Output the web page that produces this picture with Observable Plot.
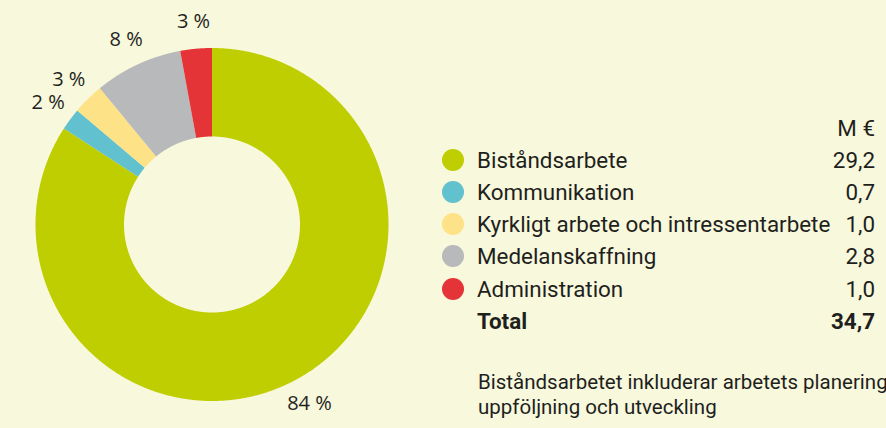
<!DOCTYPE html>
<html><head><meta charset="utf-8">
<script src="https://cdn.jsdelivr.net/npm/d3@7"></script>
<script src="https://cdn.jsdelivr.net/npm/@observablehq/plot@0.6"></script>
<style>
html,body{margin:0;padding:0;background:#f7f8dc;}
#wrap{position:relative;width:886px;height:428px;overflow:hidden;font-family:Roboto,"Noto Sans",sans-serif;color:#1f1f1d;}
#chart{position:absolute;left:0;top:0;}
#legend{position:absolute;left:442px;top:112px;width:433px;font-size:22.4px;}
.row{display:flex;align-items:center;height:32.1px;white-space:nowrap;}
.dot{width:22px;height:22px;border-radius:50%;flex:none;margin-right:13px;}
.sp{width:22px;flex:none;margin-right:13px;}
.lab{flex:1;}
.val{text-align:right;}
.bold{font-weight:700;}
#note{position:absolute;left:478px;top:370px;font-size:20.5px;line-height:25px;white-space:nowrap;}
</style></head>
<body>
<div id="wrap"><div id="chart"></div><div id="legend"></div><div id="note"></div></div>
<script>
const categories = ["Biståndsarbete","Kommunikation","Kyrkligt arbete och intressentarbete","Medelanskaffning","Administration"];
const values = [29.2, 0.7, 1.0, 2.8, 1.0];
const valueLabels = ["29,2","0,7","1,0","2,8","1,0"];
const percentLabels = ["84 %","2 %","3 %","8 %","3 %"];
const colors = ["#bfce00","#62c1cf","#fde287","#b8b9bb","#e43437"];
const unitLabel = "M €";
const totalLabel = "Total";
const totalValue = "34,7";
const noteLines = ["Biståndsarbetet inkluderar arbetets planering,","uppföljning och utveckling"];

const W = 440, H = 428, cx = 211.5, cy = 224, R = 176.5, R0 = 88;
const arcs = d3.pie().sort(null).value(d => d)(values);
const pts = [];
arcs.forEach((a, i) => {
  const key = categories[i];
  const n = Math.max(2, Math.ceil((a.endAngle - a.startAngle) / 0.005));
  const ring = [];
  for (let k = 0; k <= n; k++) { const t = a.startAngle + (a.endAngle - a.startAngle) * k / n; ring.push([R * Math.sin(t), R * Math.cos(t)]); }
  for (let k = n; k >= 0; k--) { const t = a.startAngle + (a.endAngle - a.startAngle) * k / n; ring.push([R0 * Math.sin(t), R0 * Math.cos(t)]); }
  ring.push(ring[0]);
  ring.forEach(([x, y]) => pts.push({key, x, y}));
});
const LR = 204;
const labels = arcs.map((a, i) => {
  const m = (a.startAngle + a.endAngle) / 2;
  return {x: LR * Math.sin(m), y: LR * Math.cos(m), text: percentLabels[i]};
});

const plot = Plot.plot({
  width: W, height: H, margin: 0,
  x: {domain: [-cx, W - cx], axis: null},
  y: {domain: [-(H - cy), cy], axis: null},
  color: {domain: categories, range: colors},
  style: {background: "transparent", overflow: "visible"},
  marks: [
    Plot.line(pts, {x: "x", y: "y", z: "key", fill: "key", stroke: "none", curve: "linear"}),
    Plot.text(labels, {x: "x", y: "y", text: "text", fontSize: 20, fill: "#1f1f1d", fontFamily: "Open Sans", textAnchor: "middle", lineAnchor: "middle"})
  ]
});
document.getElementById("chart").appendChild(plot);

const lg = document.getElementById("legend");
let html = `<div class="row"><span class="sp"></span><span class="lab"></span><span class="val">${unitLabel}</span></div>`;
categories.forEach((c, i) => {
  html += `<div class="row"><span class="dot" style="background:${colors[i]}"></span><span class="lab">${c}</span><span class="val">${valueLabels[i]}</span></div>`;
});
html += `<div class="row bold"><span class="sp"></span><span class="lab">${totalLabel}</span><span class="val">${totalValue}</span></div>`;
lg.innerHTML = html;
document.getElementById("note").innerHTML = noteLines.join("<br>");
</script>
</body></html>
